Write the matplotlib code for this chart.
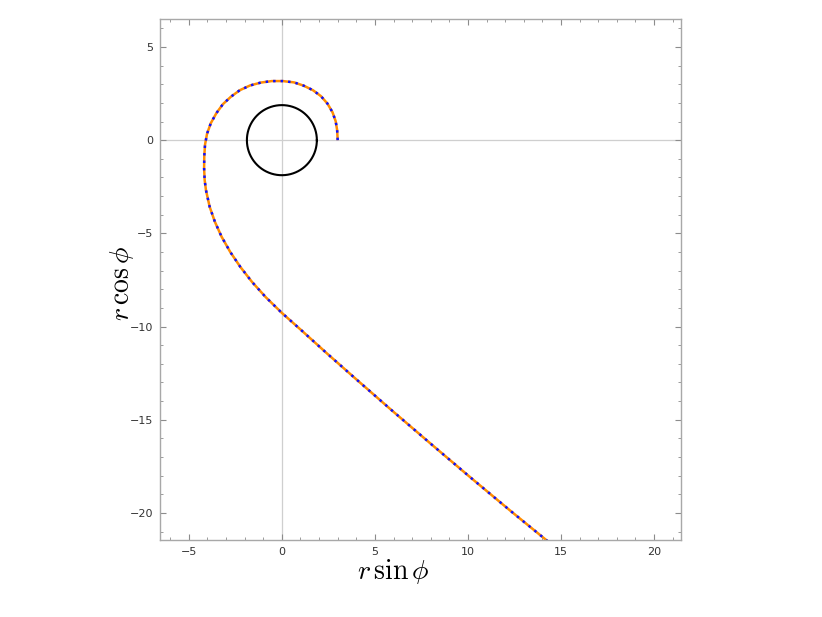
import numpy as np
import matplotlib
matplotlib.use("Agg")
import matplotlib.pyplot as plt
from matplotlib.ticker import MultipleLocator

# trajectory (r sin phi, r cos phi)
traj_x = [3.00, 2.97, 2.89, 2.72, 2.45, 2.10, 1.67, 1.18, 0.65, 0.05, -0.54, -1.13,
          -1.72, -2.26, -2.74, -3.17, -3.52, -3.82, -4.02, -4.13, -4.17, -4.18,
          -4.15, -4.08, -3.88, -3.60, -3.24, -2.78, -2.24, -1.61, -0.87, -0.02,
          1.06, 2.40, 4.01, 5.89, 8.04, 10.19, 12.34, 14.23, 15.30]
traj_y = [0.00, 0.54, 1.02, 1.50, 1.96, 2.36, 2.68, 2.92, 3.10, 3.17, 3.17, 3.09,
          2.93, 2.68, 2.33, 1.93, 1.45, 0.91, 0.35, -0.24, -0.86, -1.50,
          -2.14, -2.68, -3.58, -4.38, -5.18, -5.99, -6.79, -7.60, -8.42, -9.25,
          -10.21, -11.42, -12.84, -14.48, -16.32, -18.14, -19.93, -21.47, -22.34]
circle_radius = 1.88
xlim = (-6.55, 21.45)
ylim = (-21.45, 6.5)

fig = plt.figure(figsize=(8.22, 6.17), dpi=100)
ax = fig.add_axes([160/822, 1-540/617, (681-160)/822, (540-19)/617])

ax.axhline(0, color="#cfcfcf", lw=0.9, zorder=0)
ax.axvline(0, color="#cfcfcf", lw=0.9, zorder=0)

t = np.linspace(0, 2*np.pi, 400)
ax.plot(circle_radius*np.cos(t), circle_radius*np.sin(t), color="black", lw=1.5)

ax.plot(traj_x, traj_y, color="#ff8c00", lw=1.8, solid_capstyle="butt",
        solid_joinstyle="round")
ax.plot(traj_x, traj_y, color="#1010ff", lw=1.8, dashes=(1.0, 2.0))

ax.set_xlim(*xlim)
ax.set_ylim(*ylim)

ax.xaxis.set_major_locator(MultipleLocator(5))
ax.xaxis.set_minor_locator(MultipleLocator(1))
ax.yaxis.set_major_locator(MultipleLocator(5))
ax.yaxis.set_minor_locator(MultipleLocator(1))
ax.tick_params(which="both", direction="in", top=True, right=True,
               color="#8c8c8c", labelsize=8, labelcolor="#333333", pad=5)
ax.tick_params(which="major", length=4, width=0.8)
ax.tick_params(which="minor", length=2, width=0.6)
for s in ax.spines.values():
    s.set_color("#a8a8a8")
    s.set_linewidth(1.0)

plt.rcParams["mathtext.fontset"] = "cm"
fig.text(393/822, 1-572/617, r"$r\,\sin\phi$", fontsize=20, ha="center", va="center")
fig.text(122/822, 1-283/617, r"$r\,\cos\phi$", fontsize=20, ha="center", va="center",
         rotation=90)

fig.savefig("out.png", dpi=100)
